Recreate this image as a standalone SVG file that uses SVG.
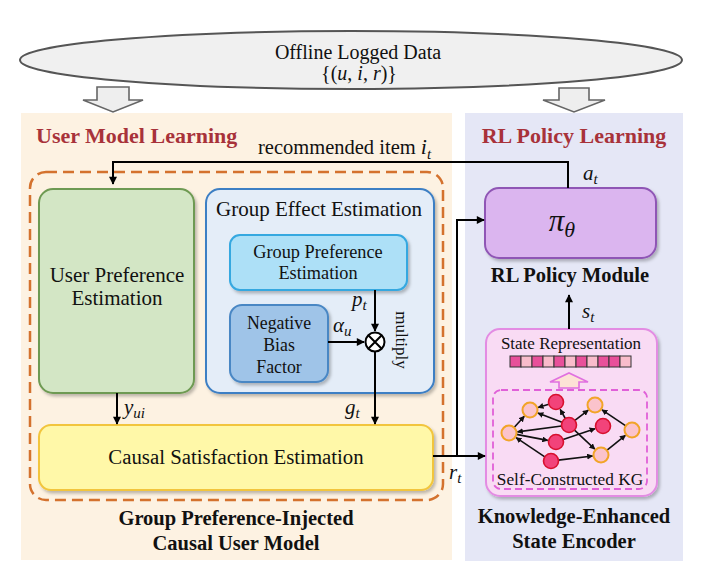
<svg xmlns="http://www.w3.org/2000/svg" width="720" height="580" viewBox="0 0 720 580">
<style>
  text { font-family: "Liberation Serif", "Times New Roman", serif; fill: #111; }
  .title { font-weight: bold; font-size: 22px; fill: #a8323a; }
  .bold { font-weight: bold; font-size: 20.5px; }
  .lbl { font-size: 21px; }
  .m { font-style: italic; }
  .conn { fill: none; stroke: #000; stroke-width: 2; }
  .kg { fill: none; stroke: #111; stroke-width: 1.6; }
  .on { fill: #fbc3cc; stroke: #f2a428; stroke-width: 2; }
  .rn { fill: #f2437a; stroke: #d8102e; stroke-width: 1.6; }
  .cd { fill: #e8509a; stroke: #333; stroke-width: 1; }
  .cl { fill: #f9bccb; stroke: #333; stroke-width: 1; }
  .hollow { fill: #eeeeee; stroke: #666; stroke-width: 1.6; }
</style>
<defs>
  <marker id="ah" viewBox="0 0 10 10" refX="9" refY="5" markerWidth="9" markerHeight="8" markerUnits="userSpaceOnUse" orient="auto">
    <path d="M0,0 L10,5 L0,10 z" fill="#000"/>
  </marker>
  <marker id="ak" viewBox="0 0 10 10" refX="9" refY="5" markerWidth="6" markerHeight="6" markerUnits="userSpaceOnUse" orient="auto">
    <path d="M0,0 L10,5 L0,10 z" fill="#111"/>
  </marker>
  <filter id="sh" x="-10%" y="-10%" width="125%" height="130%">
    <feDropShadow dx="2" dy="2.5" stdDeviation="1.5" flood-color="#000" flood-opacity="0.25"/>
  </filter>
</defs>

<!-- Panels -->
<g id="panel-user-model">
  <rect x="21" y="113" width="431" height="447" fill="#fdf2e2"/>
  <text class="title" x="36" y="143">User Model Learning</text>
</g>
<g id="panel-rl">
  <rect x="465" y="113" width="218" height="448" fill="#e5e7f6"/>
  <text class="title" x="574" y="143" text-anchor="middle">RL Policy Learning</text>
</g>

<!-- Offline data -->
<g id="offline-data">
  <ellipse cx="351" cy="60" rx="331" ry="29" fill="#f0f0f0" stroke="#555" stroke-width="2"/>
  <text x="358" y="59" text-anchor="middle" font-size="20">Offline Logged Data</text>
  <text x="359" y="80" text-anchor="middle" font-size="20">{(<tspan class="m">u</tspan>, <tspan class="m">i</tspan>, <tspan class="m">r</tspan>)}</text>
</g>
<g id="hollow-arrows">
  <path class="hollow" d="M97,87 H129 V100 H143 L113,112 L83,100 H97 Z"/>
  <path class="hollow" d="M559,88 H589 V100 H605 L574,112 L543,100 H559 Z"/>
</g>

<!-- Causal user model -->
<g id="causal-user-model">
  <rect x="30" y="172" width="413" height="328" rx="16" fill="none" stroke="#d4722e" stroke-width="2.5" stroke-dasharray="11,6"/>
  <text class="bold" x="236" y="525" text-anchor="middle">Group Preference-Injected</text>
  <text class="bold" x="236" y="550" text-anchor="middle">Causal User Model</text>
</g>

<g id="user-preference">
  <rect x="39" y="189" width="155" height="204" rx="14" fill="#d3e6c5" stroke="#6e9a52" stroke-width="2" filter="url(#sh)"/>
  <text class="lbl" x="117" y="282" text-anchor="middle">User Preference</text>
  <text class="lbl" x="117" y="305" text-anchor="middle">Estimation</text>
</g>

<g id="group-effect">
  <rect x="206" y="189" width="228" height="204" rx="14" fill="#e4edf8" stroke="#3d7fc4" stroke-width="2" filter="url(#sh)"/>
  <text class="lbl" x="319" y="216" text-anchor="middle">Group Effect Estimation</text>
  <text x="401" y="340" text-anchor="middle" font-size="17" transform="rotate(90 401 340)" dy="5">multiply</text>
</g>

<g id="group-preference">
  <rect x="230" y="235" width="177" height="55" rx="10" fill="#ade0f7" stroke="#35a8e0" stroke-width="2" filter="url(#sh)"/>
  <text x="318" y="258" text-anchor="middle" font-size="18.3">Group Preference</text>
  <text x="318" y="279" text-anchor="middle" font-size="18.3">Estimation</text>
</g>

<g id="negative-bias">
  <rect x="230" y="305" width="98" height="77" rx="12" fill="#9fc4e8" stroke="#4a87c4" stroke-width="2" filter="url(#sh)"/>
  <text x="279" y="329" text-anchor="middle" font-size="17.8">Negative</text>
  <text x="279" y="351" text-anchor="middle" font-size="17.8">Bias</text>
  <text x="279" y="373" text-anchor="middle" font-size="17.8">Factor</text>
</g>

<g id="multiply-op">
  <circle cx="375" cy="342" r="9.5" fill="#fff" stroke="#000" stroke-width="2"/>
  <path d="M368.3,335.3 L381.7,348.7 M381.7,335.3 L368.3,348.7" stroke="#000" stroke-width="2"/>
</g>

<g id="causal-satisfaction">
  <rect x="39" y="425" width="394" height="65" rx="12" fill="#fff8a8" stroke="#f2c53d" stroke-width="2" filter="url(#sh)"/>
  <text x="236" y="464" text-anchor="middle" font-size="20.8">Causal Satisfaction Estimation</text>
</g>

<!-- RL side -->
<g id="rl-policy">
  <rect x="485" y="188" width="171" height="70" rx="14" fill="#dbb5ef" stroke="#8f56b5" stroke-width="2" filter="url(#sh)"/>
  <text x="562" y="231" text-anchor="middle" font-size="31" class="m">π<tspan font-size="22" dy="6">θ</tspan></text>
  <text class="bold" x="570" y="282" text-anchor="middle" font-size="20.8">RL Policy Module</text>
</g>

<g id="state-encoder">
  <rect x="486" y="329" width="171" height="167" rx="14" fill="#f9dbf4" stroke="#e38ce3" stroke-width="2" filter="url(#sh)"/>
  <text x="571" y="349" text-anchor="middle" font-size="17">State Representation</text>
  <g id="state-bar">
    <rect class="cd" x="510" y="356" width="11" height="11"/>
    <rect class="cl" x="521" y="356" width="11" height="11"/>
    <rect class="cd" x="532" y="356" width="11" height="11"/>
    <rect class="cl" x="543" y="356" width="11" height="11"/>
    <rect class="cd" x="554" y="356" width="11" height="11"/>
    <rect class="cl" x="565" y="356" width="11" height="11"/>
    <rect class="cd" x="576" y="356" width="11" height="11"/>
    <rect class="cl" x="587" y="356" width="11" height="11"/>
    <rect class="cd" x="598" y="356" width="11" height="11"/>
    <rect class="cd" x="609" y="356" width="11" height="11"/>
    <rect class="cl" x="620" y="356" width="11" height="11"/>
  </g>
  <path d="M559,388 V382 H550 L569,373 L588,382 H579 V388 Z" fill="#fde2d6" stroke="#e070e0" stroke-width="1.6"/>
  <rect x="493" y="390" width="154" height="99" rx="8" fill="none" stroke="#e060d8" stroke-width="1.8" stroke-dasharray="7,4"/>
  <text x="570" y="485" text-anchor="middle" font-size="17.3">Self-Constructed KG</text>
  <g id="kg-edges">
    <path class="kg" d="M514.1,427.5 L524.3,416.3" marker-end="url(#ak)"/>
    <path class="kg" d="M548.8,404.2 L538.1,407.5" marker-end="url(#ak)"/>
    <path class="kg" d="M562,422.3 L537.9,413.1" marker-end="url(#ak)"/>
    <path class="kg" d="M565.3,418.5 L560.2,409.4" marker-end="url(#ak)"/>
    <path class="kg" d="M561.6,426 L517.4,431.9" marker-end="url(#ak)"/>
    <path class="kg" d="M574.9,420.4 L588.3,410.2" marker-end="url(#ak)"/>
    <path class="kg" d="M574.5,430.1 L594.8,449.2" marker-end="url(#ak)"/>
    <path class="kg" d="M516.4,434.4 L547.7,440.4" marker-end="url(#ak)"/>
    <path class="kg" d="M563.1,439.6 L595,428.7" marker-end="url(#ak)"/>
    <path class="kg" d="M544.8,456.8 L516.1,437.7" marker-end="url(#ak)"/>
    <path class="kg" d="M558.4,460.1 L592.6,456" marker-end="url(#ak)"/>
    <path class="kg" d="M606.8,450.3 L625.4,435.3" marker-end="url(#ak)"/>
    <path class="kg" d="M625.8,425.8 L602,409.8" marker-end="url(#ak)"/>
  </g>
  <g id="kg-nodes">
    <circle class="on" cx="530" cy="410" r="7.5"/>
    <circle class="rn" cx="556" cy="402" r="7.5"/>
    <circle class="on" cx="595" cy="405" r="7.5"/>
    <circle class="on" cx="509" cy="433" r="7.5"/>
    <circle class="rn" cx="569" cy="425" r="7.5"/>
    <circle class="rn" cx="603" cy="426" r="7.5"/>
    <circle class="on" cx="632" cy="430" r="7.5"/>
    <circle class="rn" cx="556" cy="442" r="7.5"/>
    <circle class="on" cx="601" cy="455" r="7.5"/>
    <circle class="rn" cx="551" cy="461" r="7.5"/>
  </g>
  <text class="bold" x="574" y="523" text-anchor="middle" font-size="21.3">Knowledge-Enhanced</text>
  <text class="bold" x="574" y="548" text-anchor="middle" font-size="21.3">State Encoder</text>
</g>

<!-- Connectors -->
<g id="connectors">
  <path class="conn" d="M568,188 V162 H113 V184" marker-end="url(#ah)"/>
  <path class="conn" d="M375,290 V331" marker-end="url(#ah)"/>
  <path class="conn" d="M328,342 H364" marker-end="url(#ah)"/>
  <path class="conn" d="M375,352 V424" marker-end="url(#ah)"/>
  <path class="conn" d="M117,393 V424" marker-end="url(#ah)"/>
  <path class="conn" d="M433,456 H485" marker-end="url(#ah)"/>
  <path class="conn" d="M457,456 V220 H484" marker-end="url(#ah)"/>
  <path class="conn" d="M569,329 V295" marker-end="url(#ah)"/>
</g>
<g id="connector-labels">
  <text x="258" y="154" font-size="20.5">recommended item <tspan class="m" font-size="22">i</tspan><tspan font-size="15" class="m" dy="5">t</tspan></text>
  <text x="583" y="180" font-size="21" class="m">a<tspan font-size="15" dy="4">t</tspan></text>
  <text x="582" y="318" font-size="21" class="m">s<tspan font-size="15" dy="4">t</tspan></text>
  <text x="449" y="479" font-size="21" class="m">r<tspan font-size="15" dy="4">t</tspan></text>
  <text x="352" y="306" font-size="21" class="m">p<tspan font-size="15" dy="4">t</tspan></text>
  <text x="333" y="332" font-size="21" class="m">α<tspan font-size="15" dy="4">u</tspan></text>
  <text x="345" y="414" font-size="21" class="m">g<tspan font-size="15" dy="4">t</tspan></text>
  <text x="124" y="414" font-size="21" class="m">y<tspan font-size="15" dy="4">ui</tspan></text>
</g>
</svg>
